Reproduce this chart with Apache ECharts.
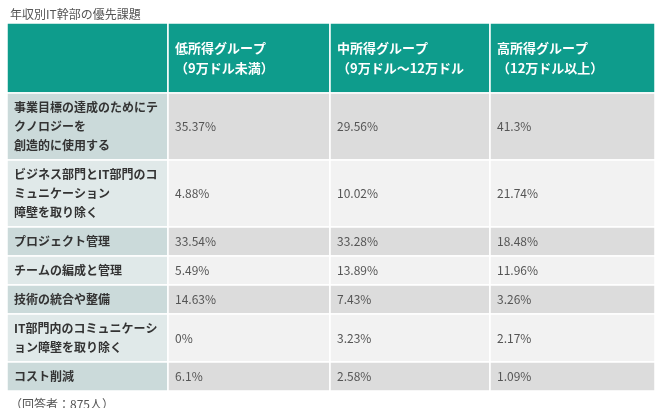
<!DOCTYPE html>
<html><head><meta charset="utf-8">
<script src="https://cdn.jsdelivr.net/npm/echarts@6/dist/echarts.min.js"></script>
<style>html,body{margin:0;background:#fff}#main{width:665px;height:408px}</style>
</head><body><div id="main"></div>
<script>
var title = '年収別IT幹部の優先課題';
var footer = '（回答者：875人）';
var groups = ['低所得グループ\n（9万ドル未満）', '中所得グループ\n（9万ドル～12万ドル', '高所得グループ\n（12万ドル以上）'];
var tasks = [
  '事業目標の達成のためにテ\nクノロジーを\n創造的に使用する',
  'ビジネス部門とIT部門のコ\nミュニケーション\n障壁を取り除く',
  'プロジェクト管理',
  'チームの編成と管理',
  '技術の統合や整備',
  'IT部門内のコミュニケーシ\nョン障壁を取り除く',
  'コスト削減'
];
var low = ['35.37%', '4.88%', '33.54%', '5.49%', '14.63%', '0%', '6.1%'];
var mid = ['29.56%', '10.02%', '33.28%', '13.89%', '7.43%', '3.23%', '2.58%'];
var high = ['41.3%', '21.74%', '18.48%', '11.96%', '3.26%', '2.17%', '1.09%'];

var colEdges = [0, 161, 323, 483, 648];
var headerH = 70;
var rowEdges = [0, headerH];
tasks.forEach(function (t) {
  var n = t.split('\n').length;
  rowEdges.push(rowEdges[rowEdges.length - 1] + 10 + 19 * n);
});
var totalH = rowEdges[rowEdges.length - 1];

var cells = [];
cells.push([0, 0, '', 'h']);
groups.forEach(function (g, j) { cells.push([j + 1, 0, g, 'h']); });
tasks.forEach(function (t, i) {
  cells.push([0, i + 1, t, 'l']);
  [low, mid, high].forEach(function (arr, j) { cells.push([j + 1, i + 1, arr[i], 'd']); });
});

var chart = echarts.init(document.getElementById('main'));
chart.setOption({
  animation: false,
  title: [
    { text: title, left: 5, top: 3, textStyle: { fontSize: 12, fontWeight: 'normal', color: '#555', fontFamily: 'Noto Sans CJK JP' } },
    { text: footer, left: 5, top: 393, textStyle: { fontSize: 12, fontWeight: 'normal', color: '#555', fontFamily: 'Noto Sans CJK JP' } }
  ],
  grid: { left: 7, top: 23, width: 648, height: totalH },
  xAxis: { type: 'value', min: 0, max: 648, show: false },
  yAxis: { type: 'value', min: 0, max: totalH, inverse: true, show: false },
  series: [{
    type: 'custom',
    data: cells,
    renderItem: function (params, api) {
      var c = api.value(0), r = api.value(1), kind = cells[params.dataIndex][3];
      var text = cells[params.dataIndex][2];
      var p0 = api.coord([colEdges[c], rowEdges[r]]);
      var p1 = api.coord([colEdges[c + 1], rowEdges[r + 1]]);
      var odd = r % 2 === 1;
      var fill = kind === 'h' ? '#0e9c8c' : kind === 'l' ? (odd ? '#cbdada' : '#e0e9e9') : (odd ? '#dcdcdc' : '#f2f2f2');
      return {
        type: 'group',
        children: [
          { type: 'rect', shape: { x: p0[0], y: p0[1], width: p1[0] - p0[0], height: p1[1] - p0[1] },
            style: { fill: fill, stroke: '#fff', lineWidth: 1.5 } },
          { type: 'text', x: p0[0] + 7, y: (p0[1] + p1[1]) / 2,
            style: { text: text, verticalAlign: 'middle', align: 'left',
              fontFamily: 'Noto Sans CJK JP',
              fontSize: kind === 'h' ? 13 : 12,
              fontWeight: kind === 'd' ? 'normal' : 'bold',
              lineHeight: kind === 'h' ? 20 : 19,
              fill: kind === 'h' ? '#fff' : kind === 'l' ? '#333' : '#555' } }
        ]
      };
    }
  }]
});
</script></body></html>
